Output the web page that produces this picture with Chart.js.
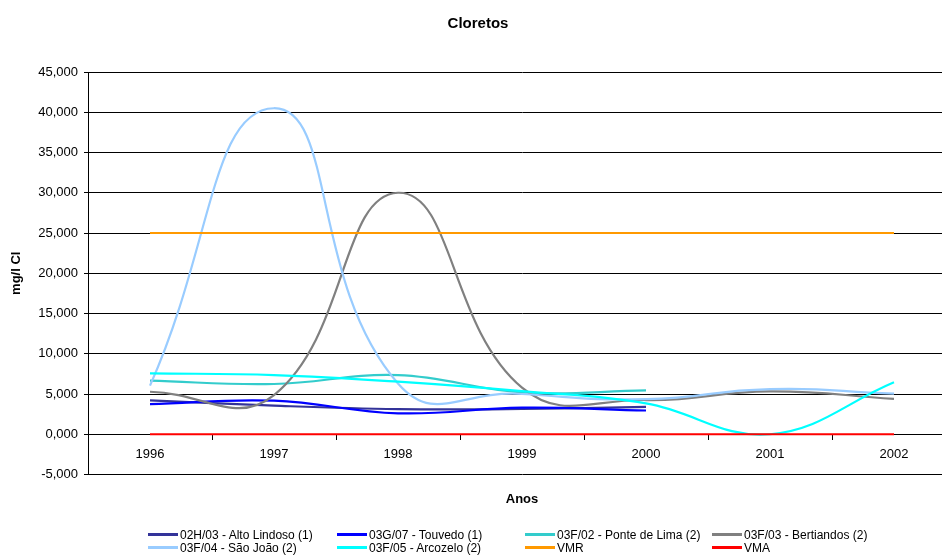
<!DOCTYPE html>
<html><head><meta charset="utf-8">
<script src="https://cdn.jsdelivr.net/npm/chart.js@4.4.0/dist/chart.umd.min.js"></script>
<style>
html,body{margin:0;padding:0;background:#fff;overflow:hidden;width:942px;height:559px;}
#wrap{position:absolute;left:0;top:0;width:960px;height:559px;}
#legend{position:absolute;left:0;top:0;width:942px;height:559px;font-family:'Liberation Sans',Arial,sans-serif;font-size:12px;color:#000;pointer-events:none;}
.li{position:absolute;white-space:nowrap;line-height:13px;height:13px;}
.sw{display:inline-block;width:30px;height:3px;vertical-align:middle;margin-right:2px;position:relative;top:-1px;}
</style></head><body>
<div id="wrap"><canvas id="c"></canvas></div>
<div id="legend"></div>
<script>
// ---- data (mg/l Cl) ----
const years = ['1996', '1997', '1998', '1999', '2000', '2001', '2002'];
const altoLindoso = [4.20, 3.55, 3.13, 3.15, 3.40, null, null];
const touvedo     = [3.75, 4.17, 2.60, 3.30, 2.95, null, null];
const ponteLima   = [6.65, 6.24, 7.35, 5.20, 5.45, null, null];
const bertiandos  = [5.28, 4.87, 30.0, 5.80, 4.25, 5.33, 4.40];
const saoJoao     = [6.04, 40.5, 6.30, 5.00, 4.37, 5.60, 5.05];
const arcozelo    = [7.56, 7.35, 6.53, 5.35, 3.83, 0.00, 6.45];
const vmr         = [25, 25, 25, 25, 25, 25, 25];
const vma         = [0, 0, 0, 0, 0, 0, 0];
const yTicks = [-5, 0, 5, 10, 15, 20, 25, 30, 35, 40, 45];

const seriesNames = ['02H/03 - Alto Lindoso (1)', '03G/07 - Touvedo (1)', '03F/02 - Ponte de Lima (2)', '03F/03 - Bertiandos (2)',
                     '03F/04 - São João (2)', '03F/05 - Arcozelo (2)', 'VMR', 'VMA'];
const seriesData = [altoLindoso, touvedo, ponteLima, bertiandos, saoJoao, arcozelo, vmr, vma];
const seriesColors = ['#333399', '#0000FF', '#33CCCC', '#808080', '#99CCFF', '#00FFFF', '#FF9900', '#FF0000'];
const seriesTension = [0.4, 0.4, 0.4, 0.45, 0.5, 0.4, 0, 0];

const FONT = "'Liberation Sans', Arial, sans-serif";
const fmt = v => v.toFixed(3).replace('.', ',');

const datasets = seriesData.map((d, i) => ({
  label: seriesNames[i],
  data: d,
  borderColor: seriesColors[i],
  backgroundColor: seriesColors[i],
  borderWidth: 2.2,
  pointRadius: 0,
  pointHoverRadius: 0,
  tension: seriesTension[i],
  fill: false,
  spanGaps: false,
  order: seriesData.length - i
}));

new Chart(document.getElementById('c'), {
  type: 'line',
  data: { labels: years, datasets },
  options: {
    responsive: true,
    maintainAspectRatio: false,
    animation: false,
    events: [],
    layout: { padding: { left: 0, right: 4, top: 0, bottom: 0 } },
    plugins: {
      legend: { display: false },
      tooltip: { enabled: false },
      title: {
        display: true,
        text: 'Cloretos',
        color: '#000',
        font: { family: FONT, size: 15, weight: 'bold', lineHeight: 1.2 },
        padding: { top: 15, bottom: 39 }
      }
    },
    scales: {
      x: {
        type: 'category',
        position: { y: 0 },
        offset: true,
        grid: { display: true, drawOnChartArea: false, drawTicks: true, tickLength: 5, offset: true, color: '#000', lineWidth: 1 },
        border: { display: true, color: '#000', width: 1 },
        ticks: { color: '#000', font: { family: FONT, size: 13 }, padding: 7, maxRotation: 0, autoSkip: false }
      },
      x2: {
        type: 'category',
        position: 'bottom',
        offset: true,
        grid: { display: false },
        border: { display: false },
        ticks: { display: false },
        title: { display: true, text: 'Anos', color: '#000', font: { family: FONT, size: 13, weight: 'bold', lineHeight: 1.2 }, padding: { top: 0, bottom: 52.2 } },
        afterFit: s => { s.height = 84.5; }
      },
      y: {
        type: 'linear',
        position: 'left',
        min: -5,
        max: 45,
        afterBuildTicks: s => { s.ticks = yTicks.map(v => ({ value: v })); },
        grid: { color: '#000', lineWidth: 1, drawTicks: true, tickLength: 4 },
        border: { display: true, color: '#000', width: 1 },
        ticks: { color: '#000', font: { family: FONT, size: 13 }, padding: 6, callback: v => fmt(v) },
        title: { display: true, text: 'mg/l Cl', color: '#000', font: { family: FONT, size: 13, weight: 'bold', lineHeight: 1.2 }, padding: { top: 8.2, bottom: 0 } },
        afterFit: s => { s.width = 88; }
      }
    }
  }
});

// ---- legend (grid of 4 columns, 2 rows) ----
const legCols = [148, 337, 525, 712];
const legRows = [535, 548];
const leg = document.getElementById('legend');
seriesNames.forEach((name, i) => {
  const el = document.createElement('div');
  el.className = 'li';
  el.style.left = legCols[i % 4] + 'px';
  el.style.top = (legRows[Math.floor(i / 4)] - 6.5) + 'px';
  const sw = document.createElement('span');
  sw.className = 'sw';
  sw.style.background = seriesColors[i];
  el.appendChild(sw);
  el.appendChild(document.createTextNode(name));
  leg.appendChild(el);
});
</script>
</body></html>
